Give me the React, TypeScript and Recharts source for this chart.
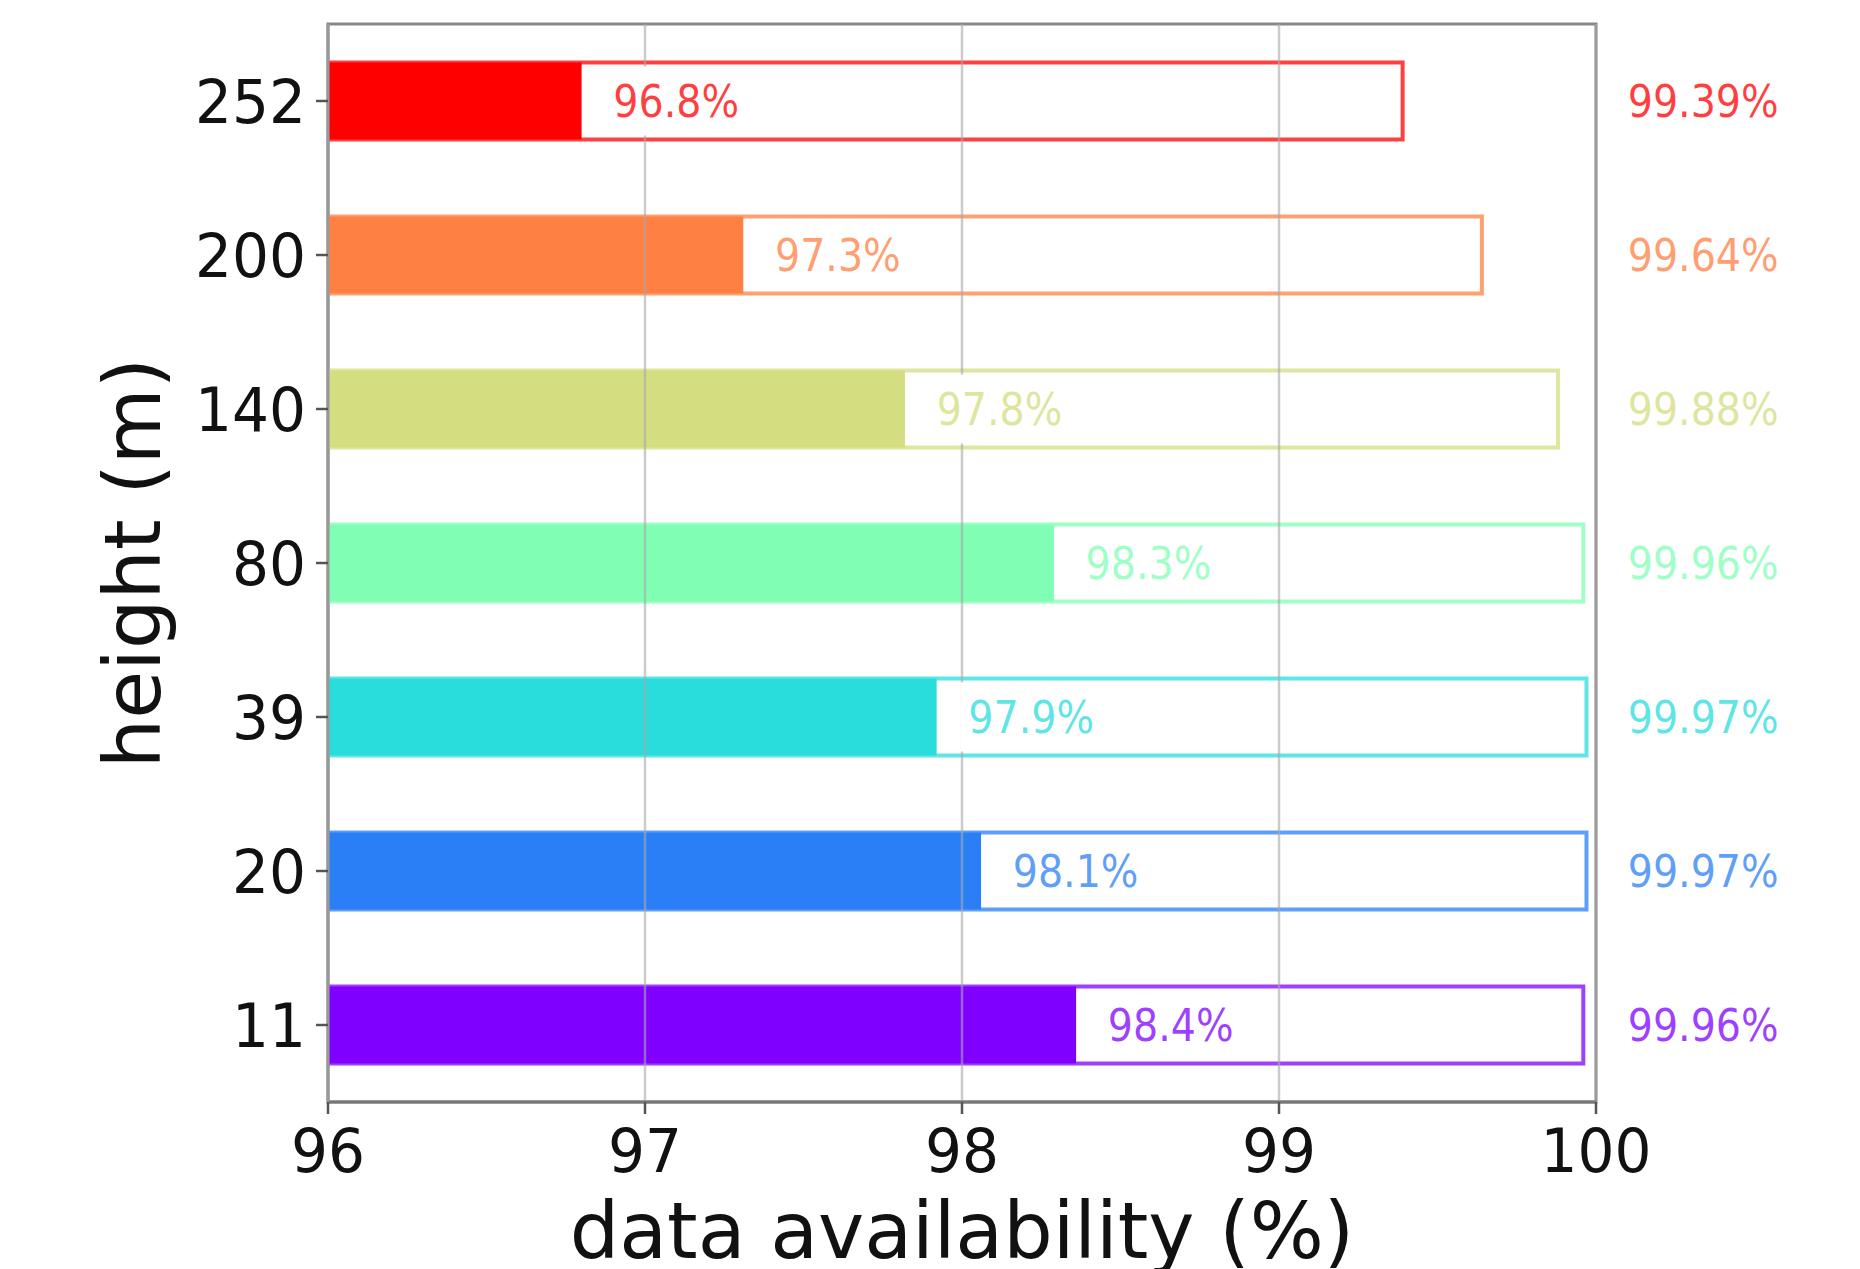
import React from 'react';
import { BarChart, Bar, XAxis, YAxis, Cell, LabelList, ReferenceLine, ReferenceArea, Label } from 'recharts';

const heights = ['252', '200', '140', '80', '39', '20', '11'];
const availability = [96.8, 97.31, 97.82, 98.29, 97.92, 98.06, 98.36];
const totals = [99.39, 99.64, 99.88, 99.96, 99.97, 99.97, 99.96];
const colors = ['#ff0000', '#ff8042', '#d4dd80', '#80ffb4', '#2adddd', '#2a7ff6', '#8000ff'];
const xTicks = [96, 97, 98, 99, 100];
const xMin = 96;
const xMax = 100;

const data = heights.map((h, i) => ({ height: h, avail: availability[i], total: totals[i] }));

const FONT = "'DejaVu Sans', 'Liberation Sans', sans-serif";
const TICK_SIZE = 60;
const VAL_SIZE = 44;
const TITLE_SIZE = 78;
const TICK_SQUEEZE = 0.97;
const VAL_SQUEEZE = 0.9;

const sq = (x: number, y: number, k: number) => `translate(${x},${y}) scale(${k},1) translate(${-x},${-y})`;

const XTick = (props: any) => {
  const { x, y, payload } = props;
  const by = y + 58;
  return (
    <text x={x} y={by} textAnchor="middle" fontFamily={FONT} fontSize={TICK_SIZE} fill="#111" transform={sq(x, by, TICK_SQUEEZE)}>
      {payload.value}
    </text>
  );
};

const YTick = (props: any) => {
  const { x, y, payload } = props;
  const tx = x - 10;
  const by = y + 22;
  return (
    <text x={tx} y={by} textAnchor="end" fontFamily={FONT} fontSize={TICK_SIZE} fill="#111" transform={sq(tx, by, TICK_SQUEEZE)}>
      {payload.value}
    </text>
  );
};

const InnerLabel = (props: any) => {
  const { x, y, width, height, value, index } = props;
  const perUnit = width / (value - xMin);
  const tx = x + width + 0.1 * perUnit;
  const by = y + height / 2 + VAL_SIZE * 0.365;
  const txt = `${Number(value).toFixed(1)}%`;
  const tw = VAL_SIZE * 3.18 * VAL_SQUEEZE;
  return (
    <g>
      <rect x={tx - 8} y={y + 4} width={tw + 16} height={height - 8} fill="#ffffff" />
      <text x={tx} y={by} fontFamily={FONT} fontSize={VAL_SIZE} fill={colors[index]} fillOpacity={0.75} transform={sq(tx, by, VAL_SQUEEZE)}>
        {txt}
      </text>
    </g>
  );
};

const OuterLabel = (props: any) => {
  const { x, y, width, height, value, index } = props;
  const perUnit = width / (value - xMin);
  const tx = x + (xMax + 0.1 - xMin) * perUnit;
  const by = y + height / 2 + VAL_SIZE * 0.365;
  return (
    <text x={tx} y={by} fontFamily={FONT} fontSize={VAL_SIZE} fill={colors[index]} fillOpacity={0.75} transform={sq(tx, by, VAL_SQUEEZE)}>
      {`${Number(value).toFixed(2)}%`}
    </text>
  );
};

const XTitle = (props: any) => {
  const vb = props.viewBox || {};
  const cx = vb.x + vb.width / 2;
  const by = vb.y + 156;
  return (
    <text x={cx} y={by} textAnchor="middle" fontFamily={FONT} fontSize={TITLE_SIZE} fill="#111">
      data availability (%)
    </text>
  );
};

const YTitle = (props: any) => {
  const vb = props.viewBox || {};
  const cx = 160;
  const cy = vb.y + vb.height / 2;
  return (
    <text x={cx} y={cy} textAnchor="middle" fontFamily={FONT} fontSize={TITLE_SIZE} fill="#111" transform={`rotate(-90, ${cx}, ${cy})`}>
      height (m)
    </text>
  );
};

export default function App() {
  return (
    <div style={{ position: 'absolute', left: 0, top: 0, width: 1860, height: 1269, background: '#fff' }}>
      <BarChart
        width={1860}
        height={1269}
        layout="vertical"
        data={data}
        margin={{ top: 24, right: 264, bottom: 0, left: 0 }}
        barCategoryGap="25%"
      >
        <XAxis
          type="number"
          dataKey="total"
          domain={[xMin, xMax]}
          ticks={xTicks}
          allowDataOverflow
          height={167}
          tick={<XTick />}
          tickSize={12}
          tickMargin={0}
          tickLine={{ stroke: '#555', strokeWidth: 2.5 }}
          axisLine={{ stroke: '#777777', strokeWidth: 3 }}
          interval={0}
        >
          <Label content={<XTitle />} position="bottom" />
        </XAxis>
        <YAxis
          yAxisId="main"
          type="category"
          dataKey="height"
          width={328}
          tick={<YTick />}
          tickSize={12}
          tickMargin={0}
          tickLine={{ stroke: '#555', strokeWidth: 2.5 }}
          axisLine={{ stroke: '#999999', strokeWidth: 3 }}
          interval={0}
        >
          <Label content={<YTitle />} position="left" />
        </YAxis>
        <YAxis yAxisId="over" type="category" dataKey="height" hide />
        <Bar yAxisId="over" dataKey="total" isAnimationActive={false}>
          {data.map((d, i) => (
            <Cell key={`o-${d.height}`} fill="#ffffff" stroke={colors[i]} strokeOpacity={0.75} strokeWidth={4} />
          ))}
          <LabelList dataKey="total" content={<OuterLabel />} />
        </Bar>
        <Bar yAxisId="main" dataKey="avail" isAnimationActive={false}>
          {data.map((d, i) => (
            <Cell key={`f-${d.height}`} fill={colors[i]} />
          ))}
          <LabelList dataKey="avail" content={<InnerLabel />} />
        </Bar>
        {xTicks.map((t) => (
          <ReferenceLine key={`g-${t}`} yAxisId="main" x={t} stroke="#a8a8a8" strokeOpacity={0.6} strokeWidth={2.5} />
        ))}
        <ReferenceArea yAxisId="main" x1={xMin} x2={xMax} fill="none" stroke="#888888" strokeWidth={3} ifOverflow="visible" />
      </BarChart>
    </div>
  );
}
